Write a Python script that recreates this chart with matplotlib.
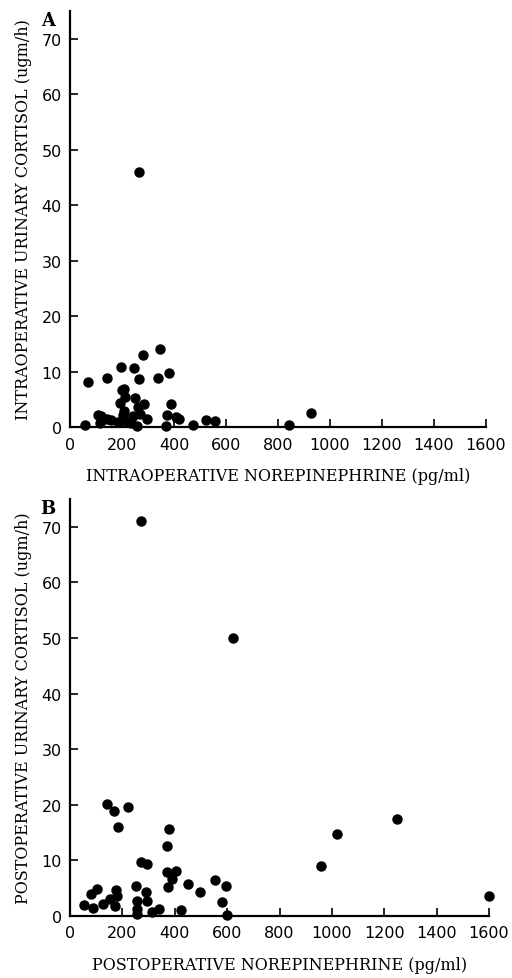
import matplotlib
matplotlib.use("Agg")
import matplotlib.pyplot as plt

# panel A: intraoperative
intra_ne = [267, 71, 141, 195, 248, 282, 346, 264, 340, 380,
            199, 208, 213, 193, 250, 286, 387, 260, 208, 108,
            119, 141, 157, 204, 244, 270, 295, 375, 407, 421,
            58, 256, 368, 475, 522, 556, 844, 928, 218, 186,
            233, 115]
intra_cort = [45.9, 8.1, 8.8, 10.8, 10.6, 12.9, 14.1, 8.6, 8.9, 9.8,
              6.6, 6.8, 5.4, 4.3, 5.2, 4.2, 4.2, 3.6, 2.8, 2.1,
              1.9, 1.4, 1.2, 2.1, 2.0, 2.4, 1.4, 2.1, 1.8, 1.5,
              0.4, 0.2, 0.2, 0.4, 1.2, 1.0, 0.3, 2.6, 0.9, 0.9,
              0.8, 0.8]

# panel B: postoperative
post_ne = [270, 622, 140, 169, 220, 184, 379, 369, 273, 293,
           369, 403, 388, 375, 449, 496, 553, 597, 580, 598,
           960, 1018, 1247, 1599, 55, 89, 79, 104, 127, 153,
           176, 178, 172, 252, 254, 254, 254, 289, 293, 312,
           341, 424]
post_cort = [71.0, 50.0, 20.2, 18.8, 19.5, 15.9, 15.7, 12.6, 9.6, 9.3,
             7.9, 8.1, 6.7, 5.1, 5.8, 4.3, 6.5, 5.3, 2.5, 0.1,
             8.9, 14.8, 17.5, 3.5, 2.0, 1.4, 3.9, 4.8, 2.1, 3.1,
             4.7, 3.6, 1.7, 5.3, 2.7, 1.2, 0.3, 4.2, 2.7, 0.6,
             1.2, 1.1]

x_ticks = [0, 200, 400, 600, 800, 1000, 1200, 1400, 1600]
y_ticks = [0, 10, 20, 30, 40, 50, 60, 70]

serif = "DejaVu Serif"

fig = plt.figure(figsize=(5.12, 9.79), dpi=100)

panels = [
    ([0.1367, 0.5628, 0.8125, 0.425], intra_ne, intra_cort, "A",
     "INTRAOPERATIVE NOREPINEPHRINE (pg/ml)",
     "INTRAOPERATIVE URINARY CORTISOL (ugm/h)"),
    ([0.1367, 0.0636, 0.8184, 0.4256], post_ne, post_cort, "B",
     "POSTOPERATIVE NOREPINEPHRINE (pg/ml)",
     "POSTOPERATIVE URINARY CORTISOL (ugm/h)"),
]

for rect, xs, ys, letter, xlabel, ylabel in panels:
    ax = fig.add_axes(rect)
    ax.plot(xs, ys, "o", color="black", ms=6.5, clip_on=False)
    ax.set_xlim(0, 1600)
    ax.set_ylim(0, 75)
    ax.set_xticks(x_ticks)
    ax.set_yticks(y_ticks)
    ax.spines["top"].set_visible(False)
    ax.spines["right"].set_visible(False)
    ax.spines["left"].set_linewidth(1.6)
    ax.spines["bottom"].set_linewidth(1.6)
    ax.tick_params(direction="in", length=6, width=1.2, labelsize=11.5)
    ax.tick_params(axis="x", pad=7)
    ax.tick_params(axis="y", pad=6)
    ax.set_xlabel(xlabel, family=serif, fontsize=11.5, labelpad=11)
    ax.set_ylabel(ylabel, family=serif, fontsize=11.5, labelpad=7)
    ax.text(-0.035, 1.0, letter, transform=ax.transAxes, family=serif,
            fontsize=13, fontweight="bold", ha="right", va="top")

fig.savefig("out.png", dpi=100)
